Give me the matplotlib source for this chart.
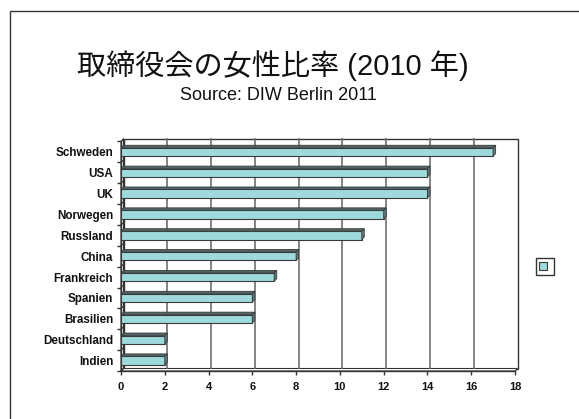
import matplotlib
matplotlib.use('Agg')
import matplotlib.pyplot as plt
from matplotlib.patches import Polygon, Rectangle, Patch

plt.rcParams['font.family'] = ['Liberation Sans', 'Noto Sans CJK JP', 'DejaVu Sans']

# women on boards, 2010 (percent)
countries = ['Indien', 'Deutschland', 'Brasilien', 'Spanien', 'Frankreich',
             'China', 'Russland', 'Norwegen', 'UK', 'USA', 'Schweden']
shares = [2, 2, 6, 6, 7, 8, 11, 12, 14, 14, 17]
xticks = [0, 2, 4, 6, 8, 10, 12, 14, 16, 18]

W, H = 579, 419
fig = plt.figure(figsize=(W / 100, H / 100), dpi=100)
fig.patch.set_facecolor('white')

# slide frame
fig.add_artist(Rectangle((9.5 / W, -0.1), 1.2, 1.1 - 11.5 / H, transform=fig.transFigure,
                         fill=False, edgecolor='#333333', lw=1))

fig.text(273 / W, 1 - 66 / H, '取締役会の女性比率 (2010 年)', fontsize=21,
         ha='center', va='center', color='#111111')
fig.text(278 / W, 1 - 95 / H, 'Source: DIW Berlin 2011', fontsize=13,
         ha='center', va='center', color='#111111')

left, right, top, bottom = 121, 515, 141.5, 371
ax = fig.add_axes([left / W, 1 - bottom / H, (right - left) / W, (bottom - top) / H])
ax.set_xlim(0, 18)
ax.set_ylim(-0.5, len(countries) - 0.5)
for s in ['top', 'right']:
    ax.spines[s].set_visible(False)
for s in ['left', 'bottom']:
    ax.spines[s].set_color('#333333')
    ax.spines[s].set_linewidth(1)

# 3d depth in data units
depth = 2.5
dx = depth / ((right - left) / 18)
dy = depth / ((bottom - top) / len(countries))
y0, y1 = -0.5, len(countries) - 0.5

# back wall, left wall and floor
ax.add_patch(Rectangle((dx, y0 + dy), 18, y1 - y0, facecolor='white',
                       edgecolor='#333333', lw=1, zorder=1, clip_on=False))
ax.add_patch(Polygon([(0, y0), (dx, y0 + dy), (dx, y1 + dy), (0, y1)], closed=True,
                     facecolor='white', edgecolor='#333333', lw=0.8, zorder=1.2,
                     clip_on=False))
ax.add_patch(Polygon([(0, y0), (18, y0), (18 + dx, y0 + dy), (dx, y0 + dy)], closed=True,
                     facecolor='white', edgecolor='#333333', lw=0.8, zorder=1.2,
                     clip_on=False))
for x in xticks[1:-1]:
    ax.plot([x + dx, x + dx], [y0 + dy, y1 + dy], color='#6f6f6f', lw=1.2,
            zorder=1.5, clip_on=False)
for k in range(len(countries) + 1):
    yb = y0 + k
    ax.plot([0, dx], [yb, yb + dy], color='#333333', lw=0.8, zorder=1.6, clip_on=False)

bar_h = 0.4
face = '#9ed9dc'
dark = '#4f6668'
side = '#5d7b7d'
ypos = list(range(len(countries)))
ax.barh(ypos, shares, height=bar_h, color=face, edgecolor='#3a3a3a', lw=0.8,
        zorder=3, label='')
for y, v in zip(ypos, shares):
    yt = y + bar_h / 2
    yb = y - bar_h / 2
    ax.add_patch(Polygon([(0, yt), (v, yt), (v + dx, yt + dy), (dx, yt + dy)],
                         closed=True, facecolor=dark, edgecolor='#3a3a3a', lw=0.6,
                         zorder=3, clip_on=False))
    ax.add_patch(Polygon([(v, yb), (v, yt), (v + dx, yt + dy), (v + dx, yb + dy)],
                         closed=True, facecolor=side, edgecolor='#3a3a3a', lw=0.6,
                         zorder=3, clip_on=False))

ax.set_yticks(ypos)
ax.set_yticklabels(countries, fontsize=8.4, fontweight='bold', color='#111111')
ax.set_yticks([y0 + k for k in range(len(countries) + 1)], minor=True)
ax.tick_params(axis='y', which='major', length=0, pad=5.5)
ax.tick_params(axis='y', which='minor', length=3, width=1, color='#333333')
ax.set_xticks(xticks)
ax.set_xticklabels([str(x) for x in xticks], fontsize=8, fontweight='bold', color='#111111')
ax.tick_params(axis='x', length=3, width=1, color='#333333', pad=5)

leg = fig.legend(handles=[Patch(facecolor=face, edgecolor='#3a3a3a', lw=0.8)], labels=[''],
                 loc='center', bbox_to_anchor=(545 / W, 1 - 266.5 / H), fontsize=7,
                 handlelength=0.8, handleheight=0.8, handletextpad=0.4, borderpad=0.35,
                 borderaxespad=0, fancybox=False, framealpha=1, edgecolor='#333333')
leg.get_frame().set_linewidth(1)

fig.savefig('out.png', dpi=100)
